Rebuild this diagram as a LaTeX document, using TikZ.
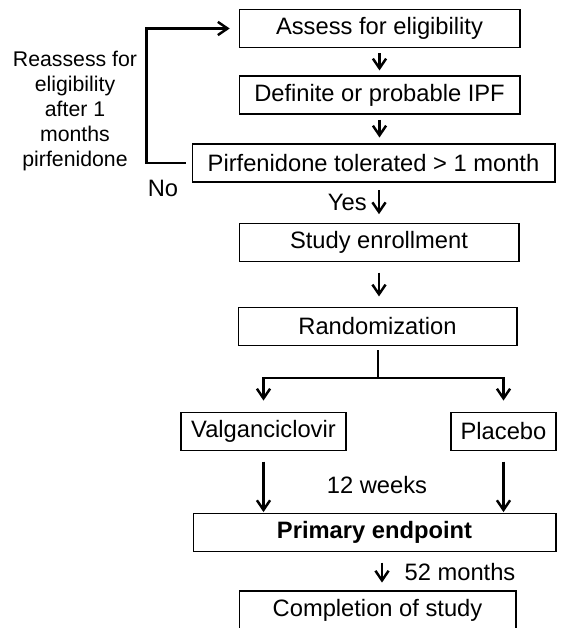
\documentclass[tikz,border=0pt]{standalone}
\usepackage{fontspec}
\setmainfont{Liberation Sans}
\usepackage{tikz}
\usetikzlibrary{arrows.meta, positioning, calc}

\begin{document}
\begin{tikzpicture}[x=0.02cm, y=-0.02cm,
    font=\fontsize{13.5pt}{14.2pt}\selectfont,
    box/.style={draw, line width=0.6pt, minimum height=0.76cm, inner sep=2pt},
    link/.style={line width=1.4pt},
    arr/.style={link, -{Straight Barb[length=5.5pt, width=7.5pt]}}]
  \useasboundingbox (0,0) rectangle (562,628);

  % Screening boxes
  \node[box, minimum width=5.62cm] (assess) at (379.5,28.5) {Assess for eligibility};
  \node[box, minimum width=5.62cm] (ipf) at (379.5,95) {Definite or probable IPF};
  \node[box, minimum width=7.26cm] (tol) at (373.5,163) {Pirfenidone tolerated > 1 month};
  \node[box, minimum width=5.6cm] (enrol) at (379,242.5) {Study enrollment};
  \node[box, minimum width=5.58cm] (rand) at (377.5,326.5) {Randomization};

  % Study arms
  \node[box, minimum width=3.3cm] (valg) at (263.5,431.5) {Valganciclovir};
  \node[box, minimum width=2.1cm] (plac) at (503.5,431.5) {Placebo};
  \node[box, minimum width=7.26cm, font=\fontsize{13.5pt}{14.2pt}\selectfont\bfseries] (primary) at (374.5,532.5) {Primary endpoint};
  \node[box, minimum width=5.54cm] (done) at (377.5,610) {Completion of study};

  % Side labels
  \node[align=center, font=\fontsize{12.1pt}{14.2pt}\selectfont] (reassess) at (75,111) {Reassess for\\eligibility\\after 1\\months\\pirfenidone};
  \node (no) at (163,188) {No};
  \node (wk12) at (377,485) {12 weeks};
  \node (mo52) at (460,572) {52 months};

  % Connectors
  \draw[arr, shorten <=2.85pt, shorten >=2.85pt] (assess) -- (ipf);
  \draw[arr, shorten <=3pt, shorten >=3.4pt] (ipf) -- (ipf |- tol.north);
  \draw[arr, shorten <=4.5pt, shorten >=5pt] (enrol.north |- tol.south) -- (enrol)
    node[pos=0.5, left=3pt] (yes) {Yes};
  \draw[arr, shorten <=6pt, shorten >=6pt] (enrol) -- (enrol |- rand.north);
  \draw[arr, shorten <=3.4pt, shorten >=5pt] (tol.west) -- ++(-45,0) |- (assess.west);

  \coordinate (split) at (378,378);
  \draw[link, shorten <=2.3pt] (rand.south -| split) -- (split);
  \draw[arr, shorten >=6.5pt] (split) -| (valg);
  \draw[arr, shorten >=6.5pt] (split) -| (plac);
  \draw[arr, shorten <=6pt, shorten >=0.5pt] (valg) -- (valg |- primary.north);
  \draw[arr, shorten <=6pt, shorten >=0.5pt] (plac) -- (plac |- primary.north);
  \draw[arr, shorten <=6pt, shorten >=4.5pt] ([xshift=0.09cm]done.north |- primary.south) -- ([xshift=0.09cm]done.north);
\end{tikzpicture}
\end{document}
